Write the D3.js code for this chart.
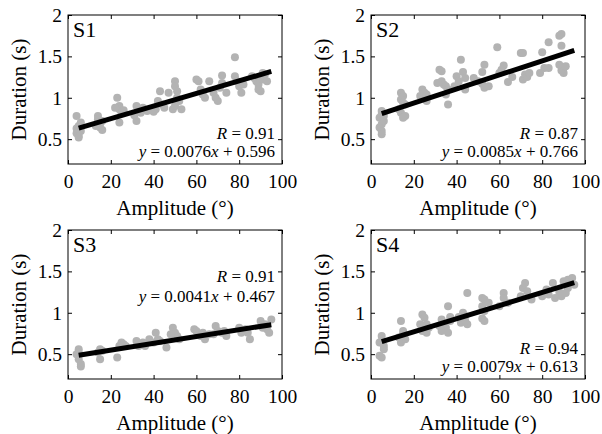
<!DOCTYPE html>
<html><head><meta charset="utf-8">
<script src="https://cdn.jsdelivr.net/npm/d3@7"></script>
<style>body{margin:0;background:#fff}svg{display:block}</style>
</head><body>
<script>
const panelNames = ["S1","S2","S3","S4"];
const xTicks = [0,20,40,60,80,100];
const yTicks = [0.5,1,1.5,2];
const rValues = ["0.91","0.87","0.91","0.94"];
const slopes = [0.0076,0.0085,0.0041,0.0079];
const intercepts = [0.596,0.766,0.467,0.613];
const fitRange = [5,95];

const s1Amp = [4,4,4,5,5,6,5,6, 14,14,15,15,16,13,16, 23,24,24,25,24,22,26, 32,33,34,32,35,37,31, 41,42,43,44,45,40,47, 50,50,51,51,52,49,53,50, 60,61,62,63,64,66, 68,69,70,71,72,72,74, 78,78,79,80,81,82, 86,87,88,89,89,90,91,92,93,91];
const s1Dur = [0.78,0.63,0.57,0.54,0.52,0.60,0.66,0.70, 0.78,0.74,0.69,0.64,0.61,0.66,0.72, 1.00,0.90,0.86,0.82,0.70,0.88,0.85, 0.90,0.86,0.82,0.72,0.88,0.84,0.79, 0.86,0.96,1.08,0.92,0.88,0.83,1.06, 1.20,1.14,1.08,1.00,0.96,0.86,0.86,0.90, 1.22,1.20,1.10,1.04,1.00,1.20, 1.06,1.00,0.96,1.12,1.18,1.27,1.06, 1.49,1.26,1.20,1.14,1.06,1.16, 1.26,1.24,1.20,1.16,1.10,1.08,1.22,1.28,1.20,1.30];

const s2Amp = [5,5,4,6,5,4,5,5,6, 14,15,14,15,13,14,16,15,16, 24,25,26,24,26,23, 32,33,33,34,35,36,35,36,31, 42,43,44,40,41,39,44, 53,52,52,53,48,50,55, 59,62,64,66,60,61, 70,71,72,73,74,71, 80,81,83,83,79, 88,89,89,90,90,89,88,91];
const s2Dur = [0.84,0.80,0.76,0.72,0.68,0.64,0.60,0.56,0.78, 1.06,1.02,0.98,0.94,0.86,0.82,0.78,0.76,0.92, 1.10,1.06,1.04,1.00,0.96,1.02, 1.34,1.32,1.20,1.16,1.14,1.10,1.04,0.92,1.18, 1.46,1.31,1.10,1.26,1.20,1.14,1.24, 1.40,1.31,1.17,1.12,1.24,1.20,1.14, 1.61,1.39,1.19,1.25,1.30,1.34, 1.54,1.22,1.28,1.25,1.30,1.54, 1.55,1.36,1.36,1.67,1.30, 1.75,1.77,1.63,1.36,1.30,1.33,1.40,1.38];

const s3Amp = [5,4,5,6,6,5, 15,14,15,16, 23,25,26,27,24, 32,34,36,38,35,33, 41,42,40,43, 46,49,50,51,52,48, 59,60,62,64,63,66, 69,70,68,72,74,73, 80,81,84,85,83, 90,92,93,94,95,91];
const s3Dur = [0.56,0.50,0.44,0.38,0.35,0.52, 0.56,0.52,0.44,0.54, 0.46,0.64,0.62,0.60,0.60, 0.66,0.62,0.60,0.68,0.64,0.60, 0.76,0.68,0.64,0.66, 0.58,0.82,0.76,0.72,0.68,0.74, 0.80,0.78,0.72,0.68,0.76,0.74, 0.84,0.78,0.74,0.76,0.72,0.78, 0.82,0.76,0.76,0.68,0.80, 0.90,0.86,0.80,0.76,0.92,0.82];

const s4Amp = [5,5,4,6,4,5,6, 14,15,15,16,14,13, 24,25,26,27,24,26,23, 33,34,35,33,36,36,37,37,32, 43,44,42,45,45,44,41, 52,53,52,53,52,53,55, 60,62,62,64, 70,71,72,73,75, 80,82,83,85,86, 88,89,90,92,94,92,95,91];
const s4Dur = [0.72,0.66,0.64,0.60,0.48,0.46,0.56, 0.90,0.78,0.74,0.68,0.64,0.70, 0.98,0.94,0.86,0.82,0.78,0.76,0.86, 0.92,0.86,0.82,0.78,0.76,1.08,0.95,0.90,0.84, 1.00,0.96,0.88,0.86,1.24,0.90,0.95, 1.18,1.16,1.08,1.02,0.93,0.90,1.12, 1.08,1.24,1.18,1.12, 1.20,1.30,1.36,1.26,1.16, 1.20,1.28,1.22,1.36,1.18, 1.25,1.20,1.38,1.40,1.42,1.30,1.34,1.24];

const amps = [s1Amp,s2Amp,s3Amp,s4Amp];
const durs = [s1Dur,s2Dur,s3Dur,s4Dur];

const W = 602, H = 434;
const FONT = "'Liberation Serif','Times New Roman',serif";
const svg = d3.select("body").append("svg").attr("width",W).attr("height",H)
  .attr("font-family",FONT);

const lefts = [68,371,68,371], tops = [15,15,230,230];
const pw = 214, ph = 149;
const textTop = [false,false,true,false];

panelNames.forEach((name,i)=>{
  const g = svg.append("g").attr("transform",`translate(${lefts[i]},${tops[i]})`);
  const x = d3.scaleLinear().domain([0,100]).range([0,pw]);
  const y = d3.scaleLinear().domain([0.2,2]).range([ph,0]);

  // points
  g.append("g").selectAll("circle").data(amps[i].map((a,k)=>[a,durs[i][k]]))
    .join("circle").attr("cx",d=>x(d[0])).attr("cy",d=>y(d[1])).attr("r",4)
    .attr("fill","#b3b3b3");

  // fit line
  g.append("line")
    .attr("x1",x(fitRange[0])).attr("y1",y(slopes[i]*fitRange[0]+intercepts[i]))
    .attr("x2",x(fitRange[1])).attr("y2",y(slopes[i]*fitRange[1]+intercepts[i]))
    .attr("stroke","#000").attr("stroke-width",5);

  // axes
  const styleAxis = sel=>{
    sel.attr("font-family",FONT);
    sel.select(".domain").remove();
    sel.selectAll("text").attr("font-size",19.5).attr("fill","#000");
    sel.selectAll("line").attr("stroke","#000");
  };
  const ax = g.append("g").attr("transform",`translate(0,${ph})`)
    .call(d3.axisBottom(x).tickValues(xTicks).tickSizeInner(-4).tickSizeOuter(0).tickPadding(10.5));
  styleAxis(ax);
  const axT = g.append("g").call(d3.axisTop(x).tickValues(xTicks).tickSizeInner(-4).tickSizeOuter(0).tickFormat(""));
  styleAxis(axT);
  const ay = g.append("g")
    .call(d3.axisLeft(y).tickValues(yTicks).tickSizeInner(-4).tickSizeOuter(0).tickPadding(6).tickFormat(d3.format("")));
  styleAxis(ay);
  const ayR = g.append("g").attr("transform",`translate(${pw},0)`)
    .call(d3.axisRight(y).tickValues(yTicks).tickSizeInner(-4).tickSizeOuter(0).tickFormat(""));
  styleAxis(ayR);

  g.append("rect").attr("width",pw).attr("height",ph).attr("fill","none").attr("stroke","#000").attr("stroke-width",1);

  // panel label
  g.append("text").attr("x",5).attr("y",22).attr("font-size",22).text(name);

  // stats text
  const ry = textTop[i] ? 52 : 124;
  const dyEq = textTop[i] ? 20 : 17.5;
  const st = g.append("text").attr("x",pw-7).attr("y",ry).attr("text-anchor","end").attr("font-size",17);
  st.append("tspan").attr("font-style","italic").text("R");
  st.append("tspan").text(" = " + rValues[i]);
  const eq = g.append("text").attr("x",pw-7).attr("y",ry+dyEq).attr("text-anchor","end").attr("font-size",17);
  eq.append("tspan").attr("font-style","italic").text("y");
  eq.append("tspan").text(" = " + slopes[i].toFixed(4));
  eq.append("tspan").attr("font-style","italic").text("x");
  eq.append("tspan").text(" + " + intercepts[i].toFixed(3));

  // axis labels
  g.append("text").attr("x",pw/2).attr("y",ph+51).attr("text-anchor","middle").attr("font-size",21).text("Amplitude (°)");
  g.append("text").attr("transform",`translate(-49,${ph/2}) rotate(-90)`)
    .attr("text-anchor","middle").attr("dy","0.35em").attr("font-size",21).text("Duration (s)");
});
</script>
</body></html>
